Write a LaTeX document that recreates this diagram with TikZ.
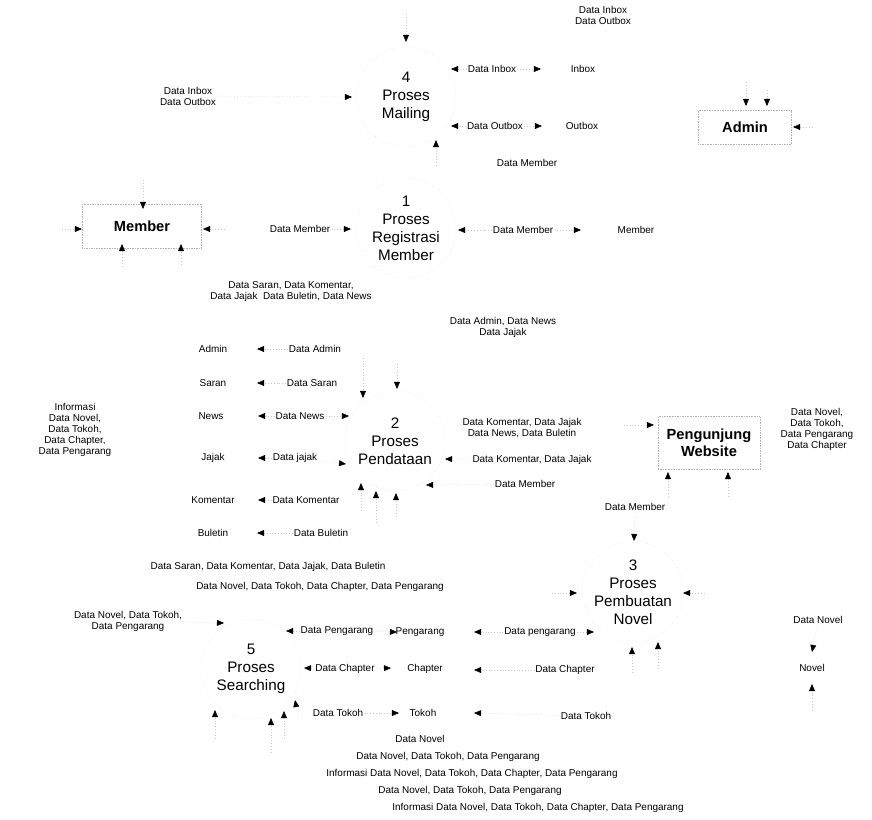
\documentclass[tikz,border=0pt]{standalone}
\usepackage{fontspec}
\setmainfont{Liberation Sans}
\usetikzlibrary{arrows.meta,positioning,shapes}

\tikzstyle{lbl}=[font=\fontsize{8.5}{9.4}\selectfont, inner sep=1pt, align=center]
\tikzstyle{store}=[lbl]
\tikzstyle{proses}=[circle, draw=gray!28, dotted, minimum size=3cm, inner sep=0pt, align=center, font=\fontsize{13}{15.3}\selectfont]
\tikzstyle{entitas}=[rectangle, draw=gray!60, densely dotted, align=center, font=\bfseries\fontsize{12.5}{14.5}\selectfont]
\tikzstyle{flow}=[draw=gray!45, line width=0.4pt, dotted, -{Triangle[length=6pt,width=5pt,color=black]}]

\begin{document}
\begin{tikzpicture}[x=0.03cm, y=-0.03cm]
      \useasboundingbox (0,0) rectangle (872,820);

      %%%%%%%%%%%%%%%%%%%%%%%%%%%%%%%%%%%%%%%%%%%%%%%%%
      % PROSES
      %%%%%%%%%%%%%%%%%%%%%%%%%%%%%%%%%%%%%%%%%%%%%%%%%
      \node[proses] (P4) at (406,97)  {4\\Proses\\Mailing};
      \node[proses] (P1) at (406,228) {1\\Proses\\Registrasi\\Member};
      \node[proses] (P2) at (395,441) {2\\Proses\\Pendataan};
      \node[proses] (P3) at (633,592) {3\\Proses\\Pembuatan\\Novel};
      \node[proses] (P5) at (251,669) {5\\Proses\\Searching};

      %%%%%%%%%%%%%%%%%%%%%%%%%%%%%%%%%%%%%%%%%%%%%%%%%
      % ENTITAS
      %%%%%%%%%%%%%%%%%%%%%%%%%%%%%%%%%%%%%%%%%%%%%%%%%
      \node[entitas, minimum width=2.8cm,  minimum height=1.02cm] (ADM) at (745,127) {Admin};
      \node[entitas, minimum width=3.57cm, minimum height=1.32cm] (MEM) at (142,226) {Member};
      \node[entitas, minimum width=3.06cm, minimum height=1.59cm] (PW)  at (709,443) {Pengunjung\\Website};

      %%%%%%%%%%%%%%%%%%%%%%%%%%%%%%%%%%%%%%%%%%%%%%%%%
      % DATA STORE
      %%%%%%%%%%%%%%%%%%%%%%%%%%%%%%%%%%%%%%%%%%%%%%%%%
      \node[store] (sIn)  at (583,69)  {Inbox};
      \node[store] (sOut) at (582,126) {Outbox};
      \node[store] (sMem) at (636,230) {Member};
      \node[store] (sAdm) at (213,349) {Admin};
      \node[store] (sSar) at (213,383) {Saran};
      \node[store] (sNew) at (211,416) {News};
      \node[store] (sJaj) at (213,458) {Jajak};
      \node[store] (sKom) at (213,500) {Komentar};
      \node[store] (sBul) at (213,533) {Buletin};
      \node[store] (sPen) at (420,632) {Pengarang};
      \node[store] (sCha) at (425,669) {Chapter};
      \node[store] (sTok) at (423,713) {Tokoh};
      \node[store] (sNov) at (812,668) {Novel};

      %%%%%%%%%%%%%%%%%%%%%%%%%%%%%%%%%%%%%%%%%%%%%%%%%
      % LABEL ALIRAN DATA
      %%%%%%%%%%%%%%%%%%%%%%%%%%%%%%%%%%%%%%%%%%%%%%%%%
      \node[lbl] (dIO1) at (603,15)  {Data Inbox\\Data Outbox};
      \node[lbl] (dIO2) at (188,96)  {Data Inbox\\Data Outbox};
      \node[lbl] (dIn)  at (492,69)  {Data Inbox};
      \node[lbl] (dOut) at (495,126) {Data Outbox};
      \node[lbl] (dMemA) at (527,163) {Data Member};
      \node[lbl] (dMem1) at (300,229) {Data Member};
      \node[lbl] (dMem2) at (523,230) {Data Member};
      \node[lbl] (dSKJ) at (291,292) {Data Saran, Data Komentar,\\Data Jajak\ \ Data Buletin, Data News};
      \node[lbl] (dANJ) at (503,327) {Data Admin, Data News\\Data Jajak};
      \node[lbl] (dAdm) at (315,349) {Data Admin};
      \node[lbl] (dSar) at (312,383) {Data Saran};
      \node[lbl] (dNew) at (300,416) {Data News};
      \node[lbl] (dJaj) at (295,458) {Data jajak};
      \node[lbl] (dKom) at (306,500) {Data Komentar};
      \node[lbl] (dBul) at (321,533) {Data Buletin};
      \node[lbl] (dInf1) at (75,430) {Informasi\\Data Novel,\\Data Tokoh,\\Data Chapter,\\Data Pengarang};
      \node[lbl] (dKJNB) at (522,428) {Data Komentar, Data Jajak\\Data News, Data Buletin};
      \node[lbl] (dKJ)  at (532,460) {Data Komentar, Data Jajak};
      \node[lbl] (dMem3) at (525,484) {Data Member};
      \node[lbl] (dNTPC) at (817,429) {Data Novel,\\Data Tokoh,\\Data Pengarang\\Data Chapter};
      \node[lbl] (dMem4) at (635,507) {Data Member};
      \node[lbl] (dSKJB) at (268,567) {Data Saran, Data Komentar, Data Jajak, Data Buletin};
      \node[lbl] (dNTCP) at (320,587) {Data Novel, Data Tokoh, Data Chapter, Data Pengarang};
      \node[lbl] (dNTP) at (128,621) {Data Novel, Data Tokoh,\\Data Pengarang};
      \node[lbl] (dPen1) at (337,631) {Data Pengarang};
      \node[lbl] (dPen2) at (540,632) {Data pengarang};
      \node[lbl] (dNov) at (818,620) {Data Novel};
      \node[lbl] (dCha1) at (345,669) {Data Chapter};
      \node[lbl] (dCha2) at (565,670) {Data Chapter};
      \node[lbl] (dTok1) at (338,713) {Data Tokoh};
      \node[lbl] (dTok2) at (586,716) {Data Tokoh};
      \node[lbl] (dNov2) at (420,739) {Data Novel};
      \node[lbl] (dB1) at (448,757) {Data Novel, Data Tokoh, Data Pengarang};
      \node[lbl] (dB2) at (472,774) {Informasi Data Novel, Data Tokoh, Data Chapter, Data Pengarang};
      \node[lbl] (dB3) at (470,791) {Data Novel, Data Tokoh, Data Pengarang};
      \node[lbl] (dB4) at (538,808) {Informasi Data Novel, Data Tokoh, Data Chapter, Data Pengarang};

      %%%%%%%%%%%%%%%%%%%%%%%%%%%%%%%%%%%%%%%%%%%%%%%%%
      % TITIK UJUNG ALIRAN
      %%%%%%%%%%%%%%%%%%%%%%%%%%%%%%%%%%%%%%%%%%%%%%%%%
      \coordinate (c1) at (406,14);   \coordinate (t1) at (406,42);
      \coordinate (t2) at (352,97);
      \coordinate (t3) at (451,69);   \coordinate (t4) at (541,69);
      \coordinate (t5) at (451,126);  \coordinate (t6) at (542,126);
      \coordinate (c7) at (436,165);  \coordinate (t7) at (436,140);
      \coordinate (c8a) at (746,82);  \coordinate (t8a) at (746,106);
      \coordinate (c8b) at (767,90);  \coordinate (t8b) at (767,106);
      \coordinate (c9) at (812,127);  \coordinate (t9) at (793,127);
      \coordinate (c10) at (143,180); \coordinate (t10) at (143,209);
      \coordinate (c11) at (62,229);  \coordinate (t11) at (82,229);
      \coordinate (c12) at (224,229); \coordinate (t12) at (203,229);
      \coordinate (c13a) at (122,266); \coordinate (t13a) at (122,244);
      \coordinate (c13b) at (181,264); \coordinate (t13b) at (181,244);
      \coordinate (t14) at (351,229);
      \coordinate (t15) at (458,230); \coordinate (t16) at (581,230);
      \coordinate (tA) at (257,349);  \coordinate (tS) at (257,383);
      \coordinate (tN) at (258,416);  \coordinate (tJ) at (258,458);
      \coordinate (tK) at (258,500);  \coordinate (tB) at (257,533);
      \coordinate (t18) at (349,416); \coordinate (t19) at (346,464);
      \coordinate (c20a) at (363,358); \coordinate (t20a) at (363,398);
      \coordinate (c20b) at (397,364); \coordinate (t20b) at (397,389);
      \coordinate (c21a) at (361,510); \coordinate (t21a) at (361,483);
      \coordinate (c21b) at (376,522); \coordinate (t21b) at (376,491);
      \coordinate (c21c) at (396,516); \coordinate (t21c) at (396,493);
      \coordinate (t22) at (426,485); \coordinate (t23) at (445,459);
      \coordinate (c24) at (624,425); \coordinate (t24) at (654,425);
      \coordinate (c25a) at (668,496); \coordinate (t25a) at (668,472);
      \coordinate (c25b) at (728,496); \coordinate (t25b) at (728,472);
      \coordinate (t26) at (634,541);
      \coordinate (c27) at (552,593); \coordinate (t27) at (577,593);
      \coordinate (c28) at (704,593); \coordinate (t28) at (683,593);
      \coordinate (c29a) at (632,672); \coordinate (t29a) at (632,647);
      \coordinate (c29b) at (658,668); \coordinate (t29b) at (658,642);
      \coordinate (t30a) at (812,652);
      \coordinate (c30) at (812,710); \coordinate (t30b) at (812,684);
      \coordinate (t31) at (224,623);
      \coordinate (t32) at (286,631); \coordinate (t33) at (397,632);
      \coordinate (t34) at (474,632); \coordinate (t35) at (594,632);
      \coordinate (t36) at (304,668); \coordinate (t37) at (391,668);
      \coordinate (t38) at (474,670);
      \coordinate (t39) at (399,713); \coordinate (t40) at (474,713);
      \coordinate (c41) at (215,738); \coordinate (t41) at (215,710);
      \coordinate (c42) at (284,738); \coordinate (t42) at (284,711);
      \coordinate (c43) at (299,722); \coordinate (t43) at (295,700);
      \coordinate (c44) at (271,752); \coordinate (t44) at (271,718);

      %%%%%%%%%%%%%%%%%%%%%%%%%%%%%%%%%%%%%%%%%%%%%%%%%
      % ALIRAN DATA
      %%%%%%%%%%%%%%%%%%%%%%%%%%%%%%%%%%%%%%%%%%%%%%%%%
      % mailing
      \draw[flow] (c1) -- (t1);
      \draw[flow] (dIO2) -- (t2);
      \draw[flow] (dIn) -- (t3);
      \draw[flow] (dIn) -- (t4);
      \draw[flow] (dOut) -- (t5);
      \draw[flow] (dOut) -- (t6);
      \draw[flow] (c7) -- (t7);
      \draw[flow] (c8a) -- (t8a);
      \draw[flow] (c8b) -- (t8b);
      \draw[flow] (c9) -- (t9);

      % registrasi
      \draw[flow] (c10) -- (t10);
      \draw[flow] (c11) -- (t11);
      \draw[flow] (c12) -- (t12);
      \draw[flow] (c13a) -- (t13a);
      \draw[flow] (c13b) -- (t13b);
      \draw[flow] (dMem1) -- (t14);
      \draw[flow] (dMem2) -- (t15);
      \draw[flow] (dMem2) -- (t16);

      % pendataan
      \draw[flow] (dAdm) -- (tA);
      \draw[flow] (dSar) -- (tS);
      \draw[flow] (dNew) -- (tN);
      \draw[flow] (dJaj) -- (tJ);
      \draw[flow] (dKom) -- (tK);
      \draw[flow] (dBul) -- (tB);
      \draw[flow] (dNew) -- (t18);
      \draw[flow] (dJaj) -- (t19);
      \draw[flow] (c20a) -- (t20a);
      \draw[flow] (c20b) -- (t20b);
      \draw[flow] (c21a) -- (t21a);
      \draw[flow] (c21b) -- (t21b);
      \draw[flow] (c21c) -- (t21c);
      \draw[flow] (dMem3) -- (t22);
      \draw[flow] (dKJ) -- (t23);
      \draw[flow] (c24) -- (t24);
      \draw[flow] (c25a) -- (t25a);
      \draw[flow] (c25b) -- (t25b);
      \draw[flow] (dMem4) -- (t26);

      % pembuatan novel
      \draw[flow] (c27) -- (t27);
      \draw[flow] (c28) -- (t28);
      \draw[flow] (c29a) -- (t29a);
      \draw[flow] (c29b) -- (t29b);
      \draw[flow] (dNov) -- (t30a);
      \draw[flow] (c30) -- (t30b);

      % searching
      \draw[flow] (dNTP) -- (t31);
      \draw[flow] (dPen1) -- (t32);
      \draw[flow] (dPen1) -- (t33);
      \draw[flow] (dPen2) -- (t34);
      \draw[flow] (dPen2) -- (t35);
      \draw[flow] (dCha1) -- (t36);
      \draw[flow] (dCha1) -- (t37);
      \draw[flow] (dCha2) -- (t38);
      \draw[flow] (dTok1) -- (t39);
      \draw[flow] (dTok2) -- (t40);
      \draw[flow] (c41) -- (t41);
      \draw[flow] (c42) -- (t42);
      \draw[flow] (c43) -- (t43);
      \draw[flow] (c44) -- (t44);

\end{tikzpicture}
\end{document}
